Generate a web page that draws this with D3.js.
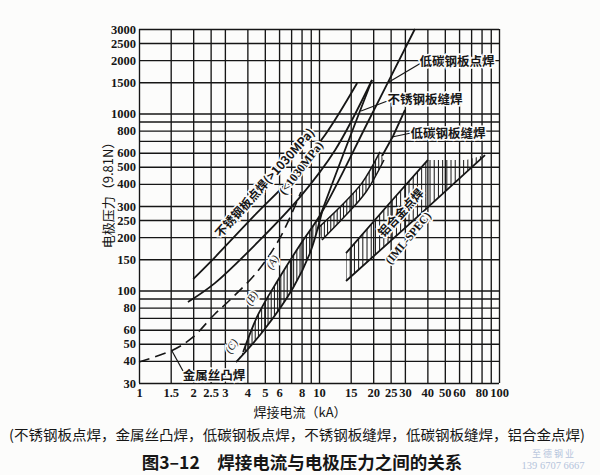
<!DOCTYPE html>
<html><head><meta charset="utf-8">
<script src="https://cdn.jsdelivr.net/npm/d3@7"></script>
<style>
html,body{margin:0;padding:0;background:#fcfcfb;}
svg{display:block;}
</style></head><body>
<svg id="c" width="600" height="475"></svg>
<script>
// ---------- axes ----------
const xTicks = [1,1.5,2,2.5,3,4,5,6,7,8,9,10,15,20,25,30,40,50,60,70,80,90,100];
const xTickLabels = [1,1.5,2,2.5,3,4,5,6,8,10,15,20,25,30,40,50,60,80,100];
const yTicks = [30,40,50,60,70,80,90,100,150,200,250,300,400,500,600,700,800,900,1000,1500,2000,2500,3000];
const yTickLabels = [30,40,50,60,80,100,150,200,250,300,400,500,600,800,1000,1500,2000,2500,3000];

// ---------- series: [current kA, force 9.81N] ----------
const ssSpotHigh = [[2.0,116],[2.64,154],[4.41,267],[7.08,437],[10.8,755],[16.3,1486]];      // 不锈钢板点焊 >1030MPa
const ssSpotLow  = [[1.87,86],[2.64,110],[4.70,193],[7.84,337],[12.3,622],[19.7,1545]];      // 不锈钢板点焊 <1030MPa
const ssSeam     = [[9.87,244],[13.8,606],[19.7,1545]];                                       // 不锈钢板缝焊
const wireProj   = [[1.0,39.4],[1.545,46.1],[1.97,53.9],[2.64,73.6],[3.20,88.3],[4.52,127],[6.07,198],[7.94,360]]; // 金属丝凸焊
const lcSpotUpper = [[3.79,44.9],[4.58,72.7],[5.92,114.6],[7.84,180.6],[10.39,277.5],[18.7,895],[34.1,3000]]; // 低碳钢板点焊
const lcSpotLower = [[3.46,39.4],[4.95,59.8],[7.17,103.2],[8.91,162.7],[10.39,277.5]];
const lcSeamUpper = [[9.87,225],[13.08,296],[17.34,405],[21.8,606]];                          // 低碳钢板缝焊
const lcSeamLower = [[10.39,193],[13.95,263],[18.24,360],[22.96,546]];
const lcSeamLine  = [[22.4,575],[25.8,746],[30.05,1046]];
const alUpper = [[14.13,162.7],[24.17,304],[40.3,546],[65.6,546]];                            // 铝合金点焊
const alLower = [[14.13,113.1],[34.1,253],[83.6,582]];

const W = 600, H = 475;
const L = 139, R = 499, T = 29, B = 383;
const x = d3.scaleLog().domain([1,100]).range([L,R]);
const y = d3.scaleLog().domain([30,3000]).range([B,T]);

const svg = d3.select('#c');
svg.append('rect').attr('width',W).attr('height',H).attr('fill','#fcfcfb');
const defs = svg.append('defs');
const ink = '#161616';
const serif = '"Liberation Serif","DejaVu Serif",serif';
const cjk = '"Noto Sans CJK SC","Noto Sans CJK JP",sans-serif';

// ---------- grid via axes ----------
const xAxis = d3.axisBottom(x).tickValues(xTicks).tickSize(-(B-T)).tickPadding(5)
  .tickFormat(d => xTickLabels.includes(d) ? String(d) : '');
const yAxis = d3.axisLeft(y).tickValues(yTicks).tickSize(-(R-L)).tickPadding(3)
  .tickFormat(d => yTickLabels.includes(d) ? String(d) : '');

const gx = svg.append('g').attr('transform',`translate(0,${B})`).call(xAxis);
const gy = svg.append('g').attr('transform',`translate(${L},0)`).call(yAxis);
[gx,gy].forEach(g => {
  g.select('.domain').remove();
  g.selectAll('line').attr('stroke',ink).attr('stroke-width',1.35);
  g.selectAll('text').attr('fill',ink).style('font-family',serif)
    .style('font-size','12.5px').style('font-weight','bold');
});

// ---------- helpers ----------
const curve = d3.line().x(d=>x(d[0])).y(d=>y(d[1])).curve(d3.curveCatmullRom.alpha(0.5));
const straight = d3.line().x(d=>x(d[0])).y(d=>y(d[1]));
const plot = svg.append('g');

function hatch(id, upper, lower, gen, step) {
  const p = gen(upper) + 'L' + gen(lower.slice().reverse()).slice(1) + 'Z';
  defs.append('clipPath').attr('id',id).append('path').attr('d',p);
  const xs0 = Math.min(x(upper[0][0]), x(lower[0][0]));
  const xs1 = Math.max(x(upper[upper.length-1][0]), x(lower[lower.length-1][0]));
  plot.append('g').attr('clip-path',`url(#${id})`)
    .selectAll('line').data(d3.range(xs0, xs1, step)).join('line')
    .attr('x1',d=>d).attr('x2',d=>d).attr('y1',0).attr('y2',H)
    .attr('stroke',ink).attr('stroke-width',1);
}
function path(data, gen, opts={}) {
  plot.append('path').attr('d',gen(data)).attr('fill','none')
    .attr('stroke',ink).attr('stroke-width',opts.w||1.8)
    .attr('stroke-dasharray',opts.dash||null).attr('stroke-linecap','butt');
}

// ---------- hatched bands ----------
const wedgeTop = lcSpotLower[lcSpotLower.length-1][0];
hatch('wedge', lcSpotUpper.filter(d=>d[0]<=wedgeTop), lcSpotLower, curve, 3.2);
hatch('seam', lcSeamUpper, lcSeamLower, curve, 3.2);
hatch('al', alUpper, alLower, straight, 4.2);

// ---------- lines ----------
path(ssSpotHigh, curve);
path(ssSpotLow, curve);
path(ssSeam, curve);
path(wireProj, curve, {dash:'11,6', w:1.6});
path(lcSpotUpper, curve);
path(lcSpotLower, curve);
path(lcSeamUpper, curve, {w:1.5});
path(lcSeamLower, curve, {w:1.5});
path(lcSeamLine, straight);
path(alUpper.slice(0,3), straight);
path(alLower, straight);

// ---------- annotations ----------
const ann = svg.append('g');
function label(txt, px, py, rot, size, fam, extra={}) {
  const t = ann.append('text').attr('transform',`translate(${px},${py}) rotate(${rot})`)
    .attr('text-anchor','middle').attr('dominant-baseline','central')
    .style('font-family',fam).style('font-size',size+'px').attr('fill',ink)
    .attr('stroke','#fcfcfb').attr('stroke-width',3).attr('paint-order','stroke')
    .text(txt);
  if (extra.weight) t.style('font-weight',extra.weight);
  if (extra.italic) t.style('font-style','italic');
  return t;
}
function leader(x1,y1,x2,y2){
  ann.append('line').attr('x1',x1).attr('y1',y1).attr('x2',x2).attr('y2',y2)
    .attr('stroke',ink).attr('stroke-width',1.2);
}
leader(421,63,389,82);
leader(390,100,361,111);
leader(411,133,392,137);
leader(172,351,183,371);
label('低碳钢板点焊',457,60,0,12.5,cjk,{weight:'bold'});
label('不锈钢板缝焊',425,98,0,12.5,cjk,{weight:'bold'});
label('低碳钢板缝焊',448,132,0,12.5,cjk,{weight:'bold'});
label('金属丝凸焊',214,374,0,12.5,cjk,{weight:'bold'});
label('不锈钢板点焊(>1030MPa)',264,182,-48,12,cjk,{weight:'bold'});
label('(<1030MPa)',301,168,-52,12,serif,{weight:'bold'});
label('铝合金点焊',400,212,-47,12,cjk,{weight:'bold'});
label('(IML-SPEC)',408,238,-50,11.5,serif,{weight:'bold'});
label('(A)',272,262,-58,11,serif,{italic:true});
label('(B)',251,298,-58,11,serif,{italic:true});
label('(C)',231,346,-58,11,serif,{italic:true});

// ---------- titles ----------
svg.append('text').attr('x',300).attr('y',411).attr('text-anchor','middle')
  .attr('dominant-baseline','central').style('font-family',cjk).style('font-size','13px')
  .attr('fill',ink).text('焊接电流（kA）');
svg.append('text').attr('transform','translate(107,192) rotate(-90)').attr('text-anchor','middle')
  .attr('dominant-baseline','central').style('font-family',cjk).style('font-size','13px')
  .attr('fill',ink).text('电极压力（9.81N）');
svg.append('text').attr('x',297).attr('y',434).attr('text-anchor','middle')
  .attr('dominant-baseline','central').style('font-family',cjk).style('font-size','14px')
  .attr('fill',ink).attr('textLength',576).attr('lengthAdjust','spacingAndGlyphs')
  .text('(不锈钢板点焊，金属丝凸焊，低碳钢板点焊，不锈钢板缝焊，低碳钢板缝焊，铝合金点焊)');
svg.append('text').attr('x',302).attr('y',461).attr('text-anchor','middle')
  .attr('dominant-baseline','central').style('font-family',cjk).style('font-size','17.5px')
  .style('font-weight','bold').attr('fill',ink).text('图3–12　焊接电流与电极压力之间的关系');
svg.append('text').attr('x',553).attr('y',457).attr('text-anchor','middle')
  .style('font-family',cjk).style('font-size','9px').attr('fill','#b5c4dc').text('至 德 钢 业');
svg.append('text').attr('x',553).attr('y',469).attr('text-anchor','middle')
  .style('font-family',serif).style('font-size','10.5px').attr('fill','#b5c4dc').text('139 6707 6667');
</script>
</body></html>
